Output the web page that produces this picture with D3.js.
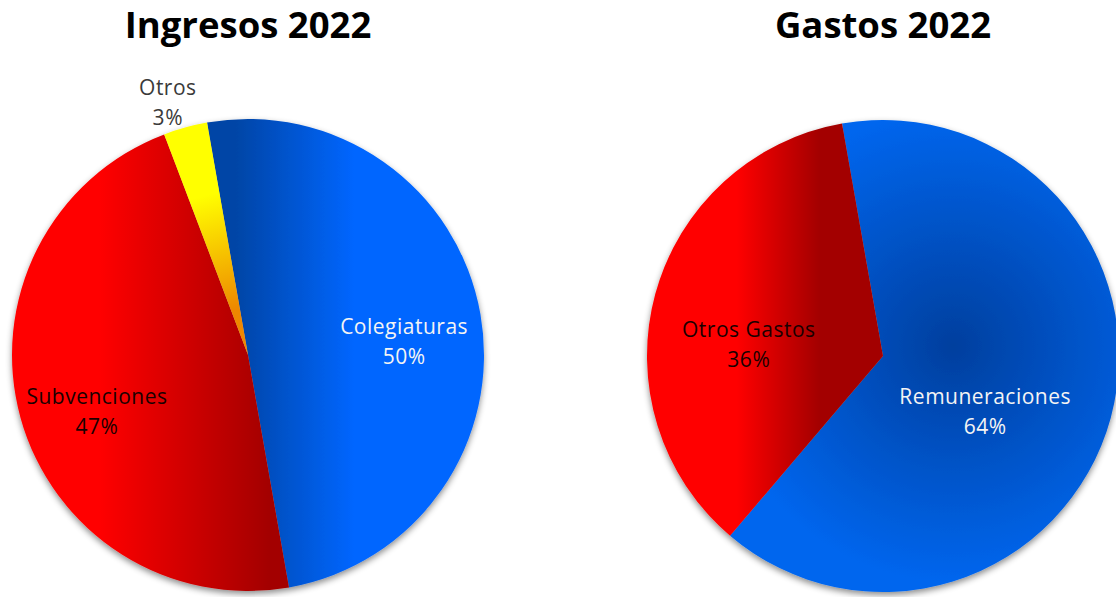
<!DOCTYPE html>
<html>
<head>
<meta charset="utf-8">
<script src="https://cdn.jsdelivr.net/npm/d3@7"></script>
<style>
  body { margin: 0; background: #fff; }
</style>
</head>
<body>
<script>
// Data
const titles = ['Ingresos 2022', 'Gastos 2022'];
const ingresosCats = ['Colegiaturas', 'Subvenciones', 'Otros'];
const ingresosVals = [50, 47, 3];
const gastosCats = ['Remuneraciones', 'Otros Gastos'];
const gastosVals = [64, 36];

// Layout / styles
let width = 1116, height = 597;
let radius = 236;
let startDeg = -10;

// dir: gradient direction in degrees (clockwise from 12 o'clock), null = slice bisector
let charts = [
  {
    title: titles[0], cats: ingresosCats, vals: ingresosVals,
    cx: 248, cy: 355,
    fills: [
      { type: 'linear', dir: 90, dark: '#0645a6', light: '#0066ff', from: -0.05, to: 0.45 },
      { type: 'linear', dir: 270, dark: '#a30000', light: '#ff0000', from: -0.09, to: 0.63 },
      { type: 'linear', dir: null, dark: '#ee8800', light: '#ffff00', from: 0.2, to: 0.7 }
    ],
    labelColor: ['#f4f4f4', '#1a0000', '#3a3a3a'],
    labelR: [0.62, 0.62, 1.12],
    labelShift: [[12, 12], [-10, 18], [-10, 3]]
  },
  {
    title: titles[1], cats: gastosCats, vals: gastosVals,
    cx: 883, cy: 356,
    fills: [
      { type: 'radial', dark: '#003f9e', light: '#0066ee', fx: 70, fy: -10, r: 1.0 },
      { type: 'linear', dir: 270, dark: '#a30000', light: '#ff0000', from: 0.27, to: 0.62 }
    ],
    labelColor: ['#f4f4f4', '#1a0000'],
    labelR: [0.62, 0.62],
    labelShift: [[-39, 18], [7, 27]]
  }
];

let svg = d3.select('body')
  .append('svg')
  .attr('width', width)
  .attr('height', height);

let defs = svg.append('defs');

// soft shadow under the pies
let shadow = defs.append('filter')
  .attr('id', 'shadow')
  .attr('x', '-10%').attr('y', '-10%')
  .attr('width', '120%').attr('height', '125%');
shadow.append('feDropShadow')
  .attr('dx', 0).attr('dy', 3)
  .attr('stdDeviation', 3)
  .attr('flood-color', '#000')
  .attr('flood-opacity', 0.45);

let arc = d3.arc().innerRadius(0).outerRadius(radius);
let fmt = d3.format('.0%');

charts.forEach((c, ci) => {
  let total = d3.sum(c.vals);
  let pie = d3.pie()
    .sort(null)
    .startAngle(startDeg * Math.PI / 180)
    .endAngle(startDeg * Math.PI / 180 + 2 * Math.PI);
  let slices = pie(c.vals);

  // gradients per slice
  slices.forEach((s, i) => {
    let f = c.fills[i];
    let id = `g${ci}_${i}`;
    let g;
    if (f.type === 'linear') {
      let a = f.dir == null ? (s.startAngle + s.endAngle) / 2 : f.dir * Math.PI / 180;
      let ux = Math.sin(a), uy = -Math.cos(a);
      g = defs.append('linearGradient')
        .attr('id', id)
        .attr('gradientUnits', 'userSpaceOnUse')
        .attr('x1', ux * radius * f.from).attr('y1', uy * radius * f.from)
        .attr('x2', ux * radius * f.to).attr('y2', uy * radius * f.to);
    } else {
      g = defs.append('radialGradient')
        .attr('id', id)
        .attr('gradientUnits', 'userSpaceOnUse')
        .attr('cx', f.fx).attr('cy', f.fy)
        .attr('r', radius * f.r);
    }
    g.append('stop').attr('offset', 0).attr('stop-color', f.dark);
    g.append('stop').attr('offset', 1).attr('stop-color', f.light);
  });

  let g = svg.append('g')
    .attr('transform', `translate(${c.cx},${c.cy})`);

  g.append('g')
    .attr('filter', 'url(#shadow)')
    .selectAll('path')
    .data(slices)
    .enter()
    .append('path')
    .attr('d', arc)
    .style('fill', (d, i) => `url(#g${ci}_${i})`);

  // data labels: category + percent
  let lab = g.selectAll('text.lab')
    .data(slices)
    .enter()
    .append('text')
    .attr('class', 'lab')
    .attr('text-anchor', 'middle')
    .style('font-family', '"Open Sans", sans-serif')
    .style('font-size', '21px')
    .style('letter-spacing', '0.5px')
    .style('fill', (d, i) => c.labelColor[i])
    .attr('transform', (d, i) => {
      let r = radius * c.labelR[i];
      let p = d3.arc().innerRadius(r).outerRadius(r).centroid(d);
      return `translate(${p[0] + c.labelShift[i][0]},${p[1] + c.labelShift[i][1]})`;
    });
  lab.append('tspan')
    .attr('x', 0).attr('y', -8)
    .text((d, i) => c.cats[i]);
  lab.append('tspan')
    .attr('x', 0).attr('y', 22)
    .text(d => fmt(d.value / total));

  svg.append('text')
    .attr('x', c.cx)
    .attr('y', 38)
    .attr('text-anchor', 'middle')
    .style('font-family', '"Open Sans", sans-serif')
    .style('font-weight', 'bold')
    .style('font-size', '36.5px')
    .style('fill', '#000')
    .text(c.title);
});
</script>
</body>
</html>
